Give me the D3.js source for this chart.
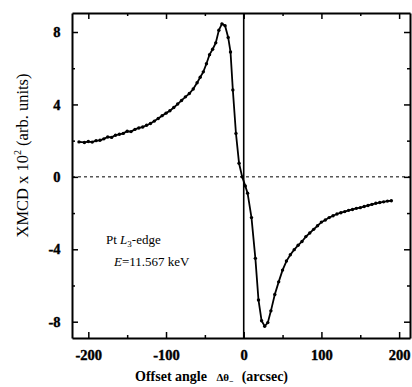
<!DOCTYPE html>
<html>
<head>
<meta charset="utf-8">
<script src="https://cdn.jsdelivr.net/npm/d3@7"></script>
<style>
  body { margin: 0; background: #ffffff; }
  svg text { font-family: "Liberation Serif", "DejaVu Serif", serif; fill: #000; }
</style>
</head>
<body>
<svg id="chart" width="412" height="387"></svg>
<script>
// offset angle (arcsec) and XMCD x 10^2
const offsets = [-212, -205, -200, -195, -190, -185, -180, -175, -170, -165, -160, -155, -150, -145, -140,
    -135, -130, -125, -120, -115, -110, -105, -100, -95, -90, -85, -80, -75, -70, -65, -60, -56, -52, -48,
    -44, -40, -36, -32, -28, -24, -20, -17, -14, -10, -6, -2, 2, 5, 10, 15, 19, 23, 27, 31, 35, 40, 45,
    50, 55, 60, 65, 70, 75, 80, 85, 90, 95, 100, 105, 110, 115, 120, 125, 130, 135, 140, 145, 150, 155,
    160, 165, 170, 175, 180, 185, 190];
const xmcd = [1.93, 1.90, 1.95, 1.92, 2.00, 2.02, 2.10, 2.20, 2.18, 2.30, 2.35, 2.40, 2.52, 2.50, 2.62,
    2.70, 2.75, 2.85, 2.95, 3.08, 3.22, 3.38, 3.52, 3.65, 3.83, 4.02, 4.22, 4.42, 4.60, 4.85, 5.20, 5.50,
    5.80, 6.25, 6.75, 7.05, 7.40, 8.10, 8.45, 8.35, 7.70, 6.90, 4.80, 2.40, 0.75, 0.00, -0.50, -0.90,
    -2.25, -4.50, -6.80, -7.95, -8.25, -8.05, -7.40, -6.50, -5.80, -5.15, -4.65, -4.30, -4.02, -3.78,
    -3.57, -3.30, -3.10, -2.90, -2.70, -2.50, -2.38, -2.25, -2.15, -2.05, -1.98, -1.92, -1.85, -1.80,
    -1.74, -1.70, -1.64, -1.58, -1.52, -1.46, -1.42, -1.38, -1.34, -1.32];

const xMajor = [-200, -100, 0, 100, 200];
const xMinor = [-150, -50, 50, 150];
const yMajor = [-8, -4, 0, 4, 8];
const yMinor = [-6, -2, 2, 6];

const margin = {t: 13, l: 72, r: 2, b: 49};
const width = 412, height = 387;

const svg = d3.select("#chart");

const x = d3.scaleLinear().domain([-221, 214]).range([margin.l, width - margin.r]);
const y = d3.scaleLinear().domain([-8.9, 9.05]).range([height - margin.b, margin.t]);

const data = offsets.map((d, i) => ({off: d, val: xmcd[i]}));

// zero lines
svg.append("line")
    .attr("x1", x.range()[0]).attr("x2", x.range()[1])
    .attr("y1", y(0)).attr("y2", y(0))
    .attr("stroke", "#000").attr("stroke-width", 1)
    .attr("stroke-dasharray", "3,3");

svg.append("line")
    .attr("x1", x(0)).attr("x2", x(0))
    .attr("y1", y.range()[0]).attr("y2", y.range()[1])
    .attr("stroke", "#000").attr("stroke-width", 1.6);

// axes, ticks pointing inward
function addAxis(axis, transform, major, minor, labels) {
    const g = svg.append("g").attr("transform", transform);
    g.call(axis.tickValues(major).tickSizeInner(-6).tickSizeOuter(0).tickPadding(10)
        .tickFormat(labels ? d3.format("d") : ""));
    g.select(".domain").attr("stroke-width", 2);
    g.selectAll(".tick line").attr("stroke-width", 1.5);
    g.selectAll("text").style("font-size", "14.5px").style("font-weight", "bold")
        .style("stroke", "#000").style("stroke-width", 0.4)
        .text(d => labels ? String(d).replace("\u2212", "-") : "");
    const g2 = svg.append("g").attr("transform", transform);
    g2.call(axis.tickValues(minor).tickSizeInner(-3).tickFormat(""));
    g2.select(".domain").remove();
    g2.selectAll(".tick line").attr("stroke-width", 1.5);
    return g;
}

const bottom = addAxis(d3.axisBottom(x), `translate(0,${y.range()[0]})`, xMajor, xMinor, true);
bottom.selectAll("text").attr("dy", "0.8em");
addAxis(d3.axisTop(x), `translate(0,${y.range()[1]})`, xMajor, xMinor, false);
const left = addAxis(d3.axisLeft(y), `translate(${x.range()[0]},0)`, yMajor, yMinor, true);
left.selectAll("text").attr("dx", "-0.1em");
addAxis(d3.axisRight(y), `translate(${x.range()[1]},0)`, yMajor, yMinor, false);

// data curve
const line = d3.line().x(d => x(d.off)).y(d => y(d.val));
svg.append("path").datum(data)
    .attr("d", line)
    .attr("fill", "none")
    .attr("stroke", "#000")
    .attr("stroke-width", 1.8);

svg.selectAll(".dot").data(data)
    .join("circle")
    .attr("class", "dot")
    .attr("cx", d => x(d.off))
    .attr("cy", d => y(d.val))
    .attr("r", 1.7)
    .attr("fill", "#000");

// annotation
const note = svg.append("text").attr("x", 106).attr("y", 244).style("font-size", "13px");
note.append("tspan").text("Pt ");
note.append("tspan").style("font-style", "italic").text("L");
note.append("tspan").attr("dy", 3).style("font-size", "9px").text("3");
note.append("tspan").attr("dy", -3).text("-edge");

const note2 = svg.append("text").attr("x", 114).attr("y", 266).style("font-size", "13px");
note2.append("tspan").style("font-style", "italic").text("E");
note2.append("tspan").text("=11.567 keV");

// axis titles
const yTitle = svg.append("text")
    .attr("transform", `translate(28,${(y.range()[0] + y.range()[1]) / 2 - 20}) rotate(-90)`)
    .attr("text-anchor", "middle")
    .style("font-size", "16.5px");
yTitle.append("tspan").text("XMCD x 10");
yTitle.append("tspan").attr("dy", -7).style("font-size", "10px").text("2");
yTitle.append("tspan").attr("dy", 7).text(" (arb. units)");

const xTitle = svg.append("text")
    .attr("x", 135).attr("y", 381)
    .style("font-size", "14px").style("font-weight", "bold");
xTitle.append("tspan").text("Offset angle ");
xTitle.append("tspan").attr("dx", 6).style("font-size", "11px").text("\u0394\u03b8");
xTitle.append("tspan").attr("dy", 3).style("font-size", "8px").text("\u2212");
xTitle.append("tspan").attr("dy", -3).attr("dx", 8).text("(arcsec)");
</script>
</body>
</html>
